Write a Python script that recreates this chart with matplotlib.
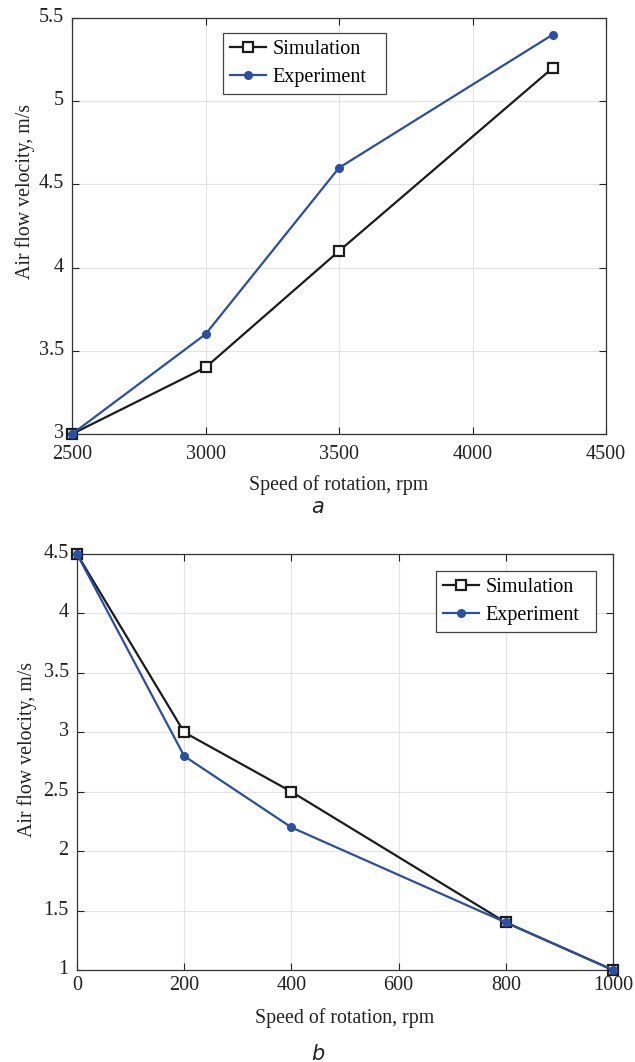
import matplotlib.pyplot as plt
import matplotlib.transforms as mtransforms

plt.rcParams['font.family'] = ['Liberation Serif', 'DejaVu Serif']

# panel a
speed_a = [2500, 3000, 3500, 4300]
sim_a = [3.0, 3.4, 4.1, 5.2]
exp_a = [3.0, 3.6, 4.6, 5.4]

# panel b
speed_b = [0, 200, 400, 800, 1000]
sim_b = [4.5, 3.0, 2.5, 1.4, 1.0]
exp_b = [4.5, 2.8, 2.2, 1.4, 1.0]

BLACK = '#1c1c1c'
BLUE = '#2a4fa3'
TXT = '#222222'

fig = plt.figure(figsize=(6.35, 10.62), dpi=100)
ax1 = fig.add_axes([0.1134, 0.5913, 0.841, 0.3917])
ax2 = fig.add_axes([0.1213, 0.0866, 0.8441, 0.3917])


def draw(ax, x, sim, exp, xlim, ylim, xticks, yticks, legbox, xpad,
         xlab_y, ylab_xy, label, label_y):
    ax.plot(x, sim, color=BLACK, lw=1.6, marker='s', ms=7, mfc='white',
            mec=BLACK, mew=1.6, label='Simulation', clip_on=False, zorder=3)
    ax.plot(x, exp, color=BLUE, lw=1.6, marker='o', ms=5.5, mfc=BLUE,
            mec=BLUE, label='Experiment', clip_on=False, zorder=4)
    ax.set_xlim(*xlim)
    ax.set_ylim(*ylim)
    ax.set_xticks(xticks)
    ax.set_yticks(yticks)
    ax.set_yticklabels([f'{v:g}' for v in yticks])
    ax.grid(True, color='#e3e3e3', lw=0.8)
    ax.set_axisbelow(True)
    ax.tick_params(direction='in', top=True, right=True, labelsize=14.5,
                   colors=TXT, length=5, width=0.8)
    ax.tick_params(axis='y', pad=6)
    ax.tick_params(axis='x', pad=xpad)
    # MATLAB-like: y tick labels sit a little above their ticks
    shift = mtransforms.ScaledTranslation(0, 3 / 100, fig.dpi_scale_trans)
    for t in ax.get_yticklabels():
        t.set_transform(t.get_transform() + shift)
    for s in ax.spines.values():
        s.set_color('#333333')
        s.set_linewidth(0.9)
    ax.set_xlabel('Speed of rotation, rpm', fontsize=14.3, color=TXT, va='baseline')
    ax.xaxis.set_label_coords(0.5, xlab_y)
    ax.set_ylabel('Air flow velocity, m/s', fontsize=14.3, color=TXT, va='center')
    ax.yaxis.set_label_coords(*ylab_xy)
    leg = ax.legend(loc='upper left', bbox_to_anchor=legbox, mode='expand',
                    borderaxespad=0, fontsize=14.5, fancybox=False, framealpha=1,
                    edgecolor='#444444', handlelength=1.8, handletextpad=0.3,
                    borderpad=0.35, labelspacing=0.45)
    leg.get_frame().set_linewidth(0.9)
    leg.set_zorder(5)
    fig.text(0.5, label_y, label, fontsize=15, style='italic',
             family='DejaVu Sans', ha='center', va='baseline', color=TXT)


draw(ax1, speed_a, sim_a, exp_a, (2500, 4500), (3, 5.5),
     [2500, 3000, 3500, 4000, 4500], [3, 3.5, 4, 4.5, 5, 5.5],
     (0.283, 0.5, 0.305, 0.464), 8, -0.1346, (-0.088, 0.584), 'a', 1 - 513 / 1062)
draw(ax2, speed_b, sim_b, exp_b, (0, 1000), (1, 4.5),
     [0, 200, 400, 600, 800, 1000], [1, 1.5, 2, 2.5, 3, 3.5, 4, 4.5],
     (0.670, 0.5, 0.2985, 0.459), 4.5, -0.1277, (-0.093, 0.529), 'b', 1 - 1060 / 1062)

fig.savefig('out.png', dpi=100)
